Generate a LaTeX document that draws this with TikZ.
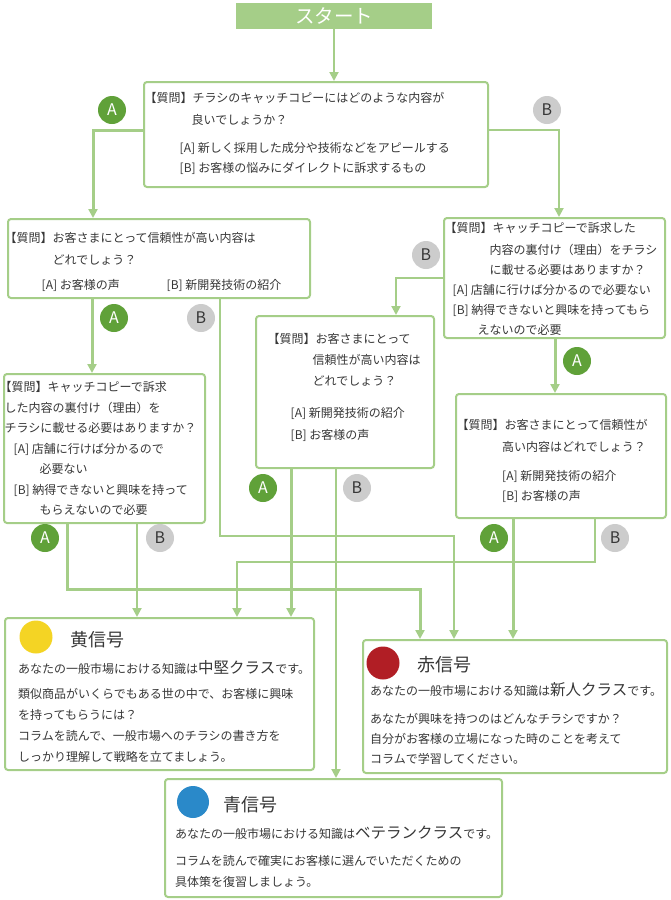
\documentclass[tikz,border=0pt]{standalone}
\usepackage{fontspec}
\setmainfont{Noto Sans CJK JP}
\usetikzlibrary{arrows.meta}
\definecolor{linegreen}{RGB}{165,206,136}
\definecolor{agreen}{RGB}{96,161,57}
\definecolor{bgray}{RGB}{204,204,204}
\definecolor{txtgray}{RGB}{55,55,55}
\definecolor{sigyellow}{RGB}{244,212,36}
\definecolor{sigred}{RGB}{177,30,37}
\definecolor{sigblue}{RGB}{42,137,201}
\tikzset{
  qbox/.style={draw=linegreen, line width=2pt, rounded corners=3pt, fill=white, inner sep=0pt},
  qtext/.style={anchor=north west, inner sep=0pt, align=left, text=txtgray, font=\fontsize{12}{21}\selectfont},
  alink/.style={draw=linegreen, line width=3pt, arrows={-Triangle[width=9pt,length=9pt]}},
  blink/.style={draw=linegreen, line width=2pt, arrows={-Triangle[width=9pt,length=9pt]}},
  amark/.style={circle, fill=agreen, text=white, minimum size=28pt, inner sep=0pt, font=\fontsize{16}{16}\selectfont},
  bmark/.style={circle, fill=bgray, text=txtgray, minimum size=28pt, inner sep=0pt, font=\fontsize{16}{16}\selectfont},
  signal/.style={circle, minimum size=33pt, inner sep=0pt},
  sigtitle/.style={anchor=west, inner sep=0pt, text=txtgray, font=\fontsize{18}{18}\selectfont},
}
\newcommand{\bigcls}[1]{{\fontsize{15.5}{21}\selectfont #1}}
\begin{document}
\begin{tikzpicture}[x=1pt, y=-1pt]
    \useasboundingbox (0,0) rectangle (670,900);
    % boxes
    \node[fill=linegreen, minimum width=196pt, minimum height=26pt, inner sep=0pt, text=white, font=\fontsize{19.5}{19.5}\selectfont] (start) at (334,16) {スタート};
    \node[qbox, minimum width=344pt, minimum height=105pt] (q1) at (316,134.5) {};
    \node[qbox, minimum width=302pt, minimum height=79pt] (q2l) at (159,258.5) {};
    \node[qbox, minimum width=221pt, minimum height=120pt] (q2r) at (554.5,278) {};
    \node[qbox, minimum width=201pt, minimum height=149pt] (q3l) at (104.5,448.5) {};
    \node[qbox, minimum width=178pt, minimum height=152pt] (q3m) at (345,392) {};
    \node[qbox, minimum width=210pt, minimum height=124pt] (q4r) at (561,456) {};
    \node[qbox, minimum width=309pt, minimum height=152pt] (yellow) at (159.5,694) {};
    \node[qbox, minimum width=304pt, minimum height=133pt] (red) at (515,706.5) {};
    \node[qbox, minimum width=337pt, minimum height=118pt] (blue) at (333.5,838) {};

    % questions
    \node[qtext] (q1t) at (144.5,92.3) {【質問】チラシのキャッチコピーにはどのような内容が\\[1pt]
        \hspace*{47pt}良いでしょうか？\\[7pt]
        \hspace*{35pt}[A] 新しく採用した成分や技術などをアピールする\\[-1pt]
        \hspace*{35pt}[B] お客様の悩みにダイレクトに訴求するもの};
    \node[qtext] (q2lt) at (4.5,232.3) {【質問】お客さまにとって信頼性が高い内容は\\[1pt]
        \hspace*{48pt}どれでしょう？\\[4pt]
        \hspace*{37pt}\makebox[125pt][l]{[A] お客様の声}[B] 新開発技術の紹介};
    \node[qtext] (q2rt) at (444.5,222.3) {【質問】キャッチコピーで訴求した\\[1pt]
        \hspace*{45pt}内容の裏付け（理由）をチラシ\\[-1pt]
        \hspace*{45pt}に載せる必要はありますか？\\[-1pt]
        \hspace*{8pt}[A] 店舗に行けば分かるので必要ない\\[-1pt]
        \hspace*{8pt}[B] 納得できないと興味を持ってもら\\[-1pt]
        \hspace*{33pt}えないので必要};
    \node[qtext] (q3lt) at (-0.5,381.3) {【質問】キャッチコピーで訴求\\[-0.5pt]
        \hspace*{5pt}した内容の裏付け（理由）を\\[-0.5pt]
        \hspace*{5pt}チラシに載せる必要はありますか？\\[-0.5pt]
        \hspace*{14pt}[A] 店舗に行けば分かるので\\[-0.5pt]
        \hspace*{40pt}必要ない\\[-0.5pt]
        \hspace*{14pt}[B] 納得できないと興味を持って\\[-0.5pt]
        \hspace*{40pt}もらえないので必要};
    \node[qtext] (q3mt) at (267.5,333.3) {【質問】お客さまにとって\\
        \hspace*{45pt}信頼性が高い内容は\\
        \hspace*{45pt}どれでしょう？\\[11pt]
        \hspace*{23pt}[A] 新開発技術の紹介\\[1pt]
        \hspace*{23pt}[B] お客様の声};
    \node[qtext] (q4rt) at (456.5,419.3) {【質問】お客さまにとって信頼性が\\[1pt]
        \hspace*{45.5pt}高い内容はどれでしょう？\\[8pt]
        \hspace*{45.5pt}[A] 新開発技術の紹介\\[-1pt]
        \hspace*{45.5pt}[B] お客様の声};

    % results
    \node[signal, fill=sigyellow] (ydot) at (36,637) {};
    \node[sigtitle] (ytitle) at (70,640) {黄信号};
    \node[qtext] (ytext) at (18,660) {あなたの一般市場における知識は\bigcls{中堅クラス}です。\\[4pt]
        類似商品がいくらでもある世の中で、お客様に興味\\
        を持ってもらうには？\\
        コラムを読んで、一般市場へのチラシの書き方を\\
        しっかり理解して戦略を立てましょう。};
    \node[signal, fill=sigred] (rdot) at (383,663) {};
    \node[sigtitle] (rtitle) at (417,665) {赤信号};
    \node[qtext] (rtext) at (370,682) {あなたの一般市場における知識は\bigcls{新人クラス}です。\\[7pt]
        あなたが興味を持つのはどんなチラシですか？\\[-1pt]
        自分がお客様の立場になった時のことを考えて\\[-1pt]
        コラムで学習してください。};
    \node[signal, fill=sigblue, minimum size=32pt] (bdot) at (193,802) {};
    \node[sigtitle] (btitle) at (223,805) {青信号};
    \node[qtext] (btext) at (175,826) {あなたの一般市場における知識は\bigcls{ベテランクラス}です。\\[6pt]
        コラムを読んで確実にお客様に選んでいただくための\\
        具体策を復習しましょう。};

    % connectors
    \draw[blink] (start.south) -- (start.south |- q1.north);
    \draw[alink] ([yshift=4.5pt]q1.west) -| ([xshift=86pt]q2l.north west);
    \draw[blink] ([yshift=4.5pt]q1.east) -| ([xshift=116pt]q2r.north west);
    \draw[alink] ([xshift=85pt]q2l.south west) -- ([xshift=89pt]q3l.north west);
    \draw[blink] ([xshift=213pt]q2l.south west) -- ++(0,237) -| ([xshift=92pt]red.north west);
    \draw[blink] (q2r.west) -| ([xshift=141pt]q3m.north west);
    \draw[alink] ([xshift=112pt]q2r.south west) -- ([xshift=100pt]q4r.north west);
    \draw[alink] ([xshift=64pt]q3l.south west) -- ++(0,65) -| ([xshift=58pt]red.north west);
    \draw[blink] ([xshift=134pt]q3l.south west) -- ([xshift=133pt]yellow.north west);
    \draw[alink] ([xshift=36pt]q3m.south west) -- ([xshift=287pt]yellow.north west);
    \draw[blink] ([xshift=81pt]q3m.south west) -- ([xshift=172pt]blue.north west);
    \draw[alink] ([xshift=58pt]q4r.south west) -- ([xshift=151pt]red.north west);
    \draw[blink] ([xshift=140pt]q4r.south west) -- ++(0,43) -| ([xshift=233pt]yellow.north west);

    % branch marks
    \node[amark] (a1) at (112,110) {A};
    \node[bmark] (b1) at (547,110) {B};
    \node[amark] (a2) at (114,318) {A};
    \node[bmark] (b2) at (201,318) {B};
    \node[bmark] (b3) at (426,255) {B};
    \node[amark] (a3) at (577,361) {A};
    \node[amark] (a4) at (45,538) {A};
    \node[bmark] (b4) at (160,538) {B};
    \node[amark] (a5) at (263,488) {A};
    \node[bmark] (b5) at (357,488) {B};
    \node[amark] (a6) at (494,538) {A};
    \node[bmark] (b6) at (615,538) {B};
\end{tikzpicture}
\end{document}
